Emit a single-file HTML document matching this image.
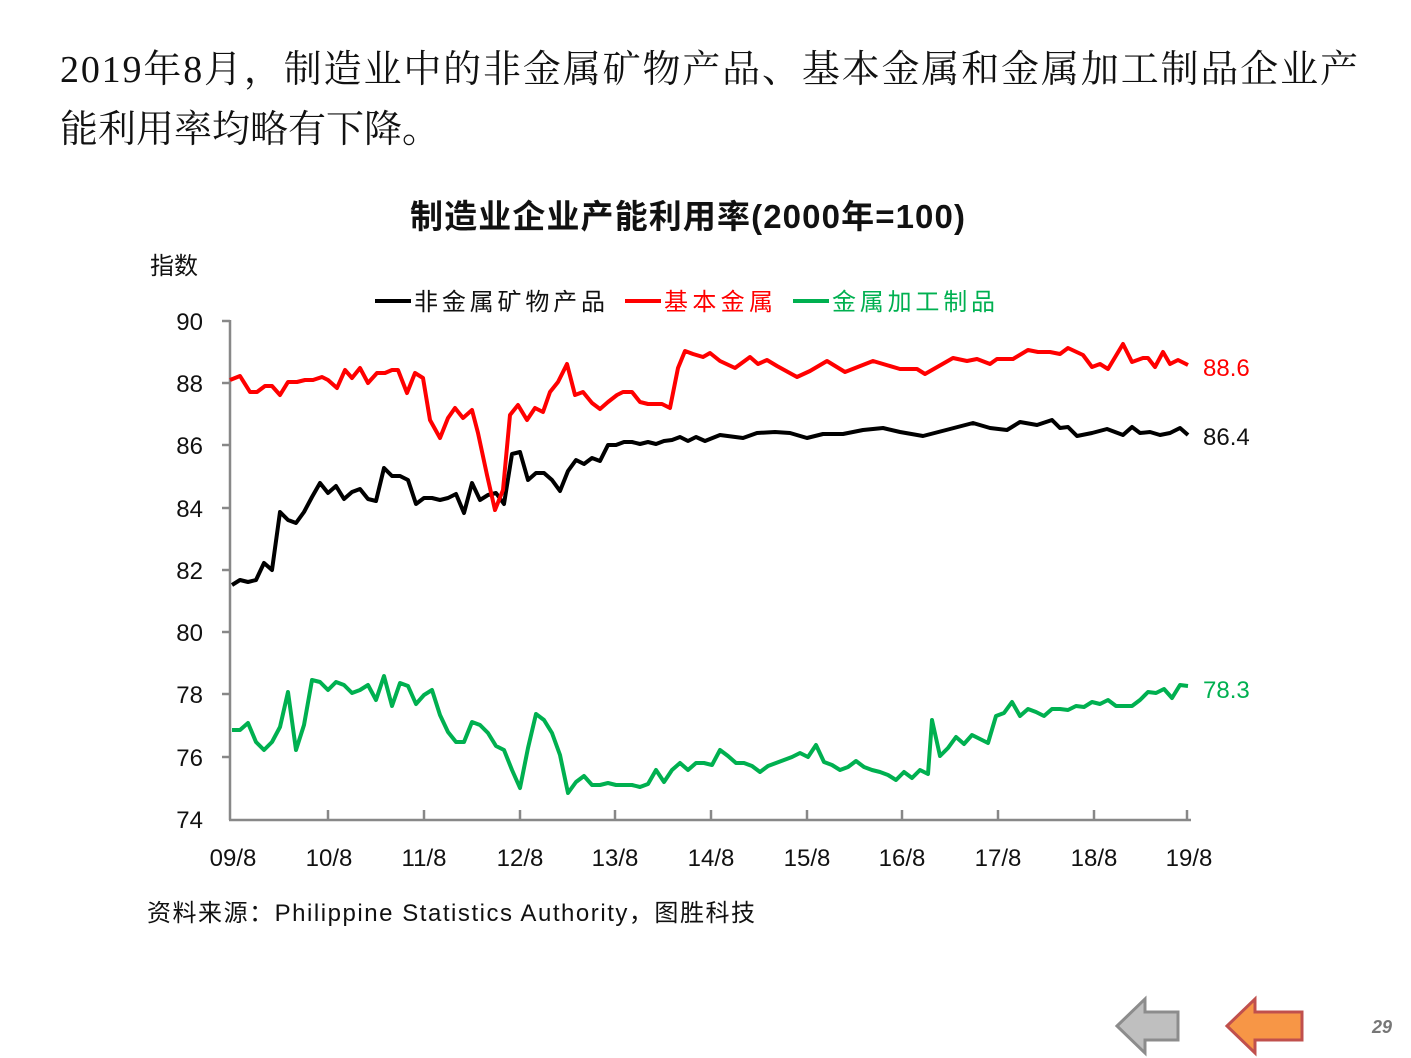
<!DOCTYPE html>
<html><head><meta charset="utf-8"><style>
body{margin:0;background:#fff;width:1411px;height:1058px;overflow:hidden}
svg{display:block}
.s{font-family:"Liberation Sans","Noto Sans CJK SC",sans-serif}
</style></head><body>
<svg width="1411" height="1058" viewBox="0 0 1411 1058">
<text x="60" y="82" font-family="Liberation Serif,'Noto Serif CJK SC',serif" font-size="38" fill="#111" textLength="1298">2019年8月，制造业中的非金属矿物产品、基本金属和金属加工制品企业产</text>
<text x="60" y="142" font-family="Liberation Serif,'Noto Serif CJK SC',serif" font-size="38" fill="#111">能利用率均略有下降。</text>
<text x="410" y="228" class="s" font-size="33" font-weight="bold" fill="#111" textLength="555">制造业企业产能利用率(2000年=100)</text>
<text x="150" y="274" class="s" font-size="24" fill="#111">指数</text>
<g class="s" font-size="24">
<line x1="375" y1="301" x2="411" y2="301" stroke="#000" stroke-width="4"/><text x="414" y="310" fill="#111" textLength="191">非金属矿物产品</text>
<line x1="625" y1="301" x2="661" y2="301" stroke="#f00" stroke-width="4"/><text x="664" y="310" fill="#f00" textLength="109">基本金属</text>
<line x1="793" y1="301" x2="829" y2="301" stroke="#00b050" stroke-width="4"/><text x="832" y="310" fill="#00b050" textLength="163">金属加工制品</text>
</g>
<g stroke="#888" stroke-width="2.5">
<line x1="230" y1="320" x2="230" y2="820"/>
<line x1="229" y1="820" x2="1191" y2="820"/>
<line x1="222" y1="321" x2="230" y2="321"/><line x1="222" y1="383" x2="230" y2="383"/><line x1="222" y1="445" x2="230" y2="445"/><line x1="222" y1="508" x2="230" y2="508"/><line x1="222" y1="570" x2="230" y2="570"/><line x1="222" y1="632" x2="230" y2="632"/><line x1="222" y1="694" x2="230" y2="694"/><line x1="222" y1="757" x2="230" y2="757"/>
<line x1="328" y1="810" x2="328" y2="820"/><line x1="424" y1="810" x2="424" y2="820"/><line x1="520" y1="810" x2="520" y2="820"/><line x1="615" y1="810" x2="615" y2="820"/><line x1="711" y1="810" x2="711" y2="820"/><line x1="807" y1="810" x2="807" y2="820"/><line x1="902" y1="810" x2="902" y2="820"/><line x1="998" y1="810" x2="998" y2="820"/><line x1="1094" y1="810" x2="1094" y2="820"/><line x1="1187" y1="810" x2="1187" y2="820"/>
</g>
<g class="s" font-size="24" fill="#111" text-anchor="end">
<text x="203" y="330">90</text><text x="203" y="392">88</text><text x="203" y="454">86</text><text x="203" y="517">84</text><text x="203" y="579">82</text><text x="203" y="641">80</text><text x="203" y="703">78</text><text x="203" y="766">76</text><text x="203" y="828">74</text>
</g>
<g class="s" font-size="24" fill="#111" text-anchor="middle">
<text x="233" y="866">09/8</text><text x="329" y="866">10/8</text><text x="424" y="866">11/8</text><text x="520" y="866">12/8</text><text x="615" y="866">13/8</text><text x="711" y="866">14/8</text><text x="807" y="866">15/8</text><text x="902" y="866">16/8</text><text x="998" y="866">17/8</text><text x="1094" y="866">18/8</text><text x="1189" y="866">19/8</text>
</g>
<g fill="none" stroke-width="4" stroke-linejoin="round">
<polyline stroke="#000" points="232,585 240,580 248,582 256,580 264,563 272,570 280,512 288,520 296,523 304,512 312,497 320,483 328,493 336,486 344,499 352,492 360,489 368,499 376,501 384,468 392,476 400,476 408,480 416,504 424,498 432,498 440,500 448,498 456,494 464,513 472,483 480,500 488,495 496,493 504,504 512,454 520,452 528,480 536,473 544,473 552,480 560,491 568,471 576,460 584,464 592,458 600,461 608,445 616,445 624,442 632,442 640,444 648,442 656,444 664,441 672,440 680,437 688,441 696,437 705,441 720,435 743,438 757,433 775,432 790,433 807,438 823,434 843,434 863,430 883,428 900,432 923,436 950,429 973,423 990,428 1007,430 1020,422 1037,425 1052,420 1060,428 1068,427 1077,436 1092,433 1107,429 1115,432 1123,435 1132,427 1140,433 1150,432 1160,435 1170,433 1180,428 1188,435"/>
<polyline stroke="#f00" points="230,380 240,376 250,392 257,392 265,386 272,386 280,395 288,382 297,382 305,380 313,380 322,377 328,380 337,388 345,370 352,378 360,368 368,383 377,373 385,373 392,370 398,370 407,393 415,373 423,378 430,420 440,438 448,418 455,408 463,418 472,410 478,433 487,475 495,510 503,490 510,415 518,405 527,420 535,408 543,412 550,392 558,382 567,364 575,395 583,392 592,403 600,409 608,402 617,395 623,392 632,392 640,402 648,404 662,404 670,408 678,368 685,351 693,354 703,357 710,353 720,361 735,368 750,357 758,364 767,360 777,366 797,377 810,371 827,361 845,372 873,361 900,369 917,369 925,374 953,358 967,361 977,359 990,364 997,359 1013,359 1028,350 1038,352 1050,352 1060,354 1068,348 1083,355 1092,367 1100,364 1108,369 1123,344 1132,362 1143,358 1148,358 1155,367 1163,352 1170,364 1178,360 1188,365"/>
<polyline stroke="#00b050" points="232,730 240,730 248,723 256,742 264,750 272,742 280,727 288,692 296,750 304,725 312,680 320,682 328,690 336,682 344,685 352,693 360,690 368,685 376,700 384,676 392,706 400,683 408,686 416,704 424,695 432,690 440,715 448,732 456,742 464,742 472,722 480,725 488,733 496,746 504,750 512,770 520,788 528,748 536,714 544,720 552,733 560,755 568,793 576,782 584,776 592,785 600,785 608,783 616,785 624,785 632,785 640,787 648,784 656,770 664,782 672,770 680,763 688,770 696,763 704,763 712,765 720,750 728,756 736,763 744,763 752,766 760,772 768,766 776,763 784,760 792,757 800,753 808,757 816,745 824,762 832,765 840,770 848,767 856,761 864,767 872,770 880,772 888,775 896,780 904,772 912,778 920,770 928,774 932,720 940,756 948,748 956,737 964,744 972,735 980,739 988,743 996,716 1004,713 1012,702 1020,716 1028,709 1036,712 1044,716 1052,709 1060,709 1068,710 1076,706 1084,707 1092,702 1100,704 1108,700 1116,706 1124,706 1132,706 1140,700 1148,692 1156,693 1164,689 1172,698 1180,685 1188,686"/>
</g>
<g class="s" font-size="24">
<text x="1203" y="376" fill="#f00">88.6</text>
<text x="1203" y="445" fill="#111">86.4</text>
<text x="1203" y="698" fill="#00b050">78.3</text>
</g>
<text x="147" y="921" class="s" font-size="24" fill="#111" textLength="608">资料来源：Philippine Statistics Authority，图胜科技</text>
<polygon points="1117,1026 1145,999 1145,1012 1178,1012 1178,1040 1145,1040 1145,1053" fill="#bfbfbf" stroke="#8c8c8c" stroke-width="3"/>
<polygon points="1227,1026 1255,999 1255,1012 1302,1012 1302,1040 1255,1040 1255,1053" fill="#f79646" stroke="#c0504d" stroke-width="3"/>
<text x="1382" y="1033" text-anchor="middle" class="s" font-size="18" font-weight="bold" font-style="italic" fill="#777">29</text>
</svg>
</body></html>
